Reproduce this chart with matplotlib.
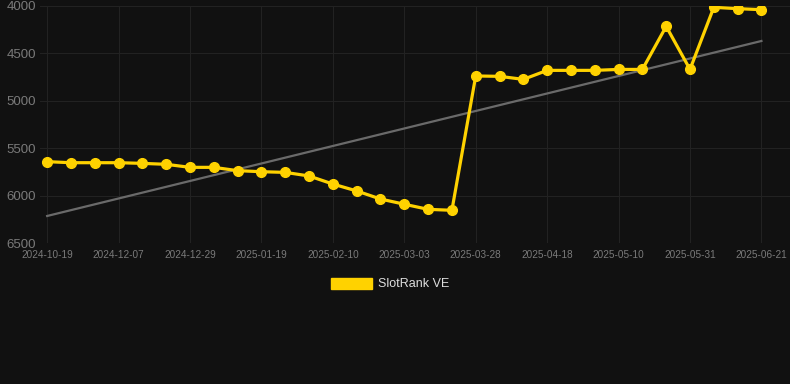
import matplotlib
matplotlib.use('Agg')
import matplotlib.pyplot as plt
from matplotlib.patches import Patch
import numpy as np

plt.rcParams['font.family'] = ['Liberation Sans', 'DejaVu Sans']

# ranks (lower is better, axis inverted)
ranks = [5642, 5653, 5653, 5653, 5660, 5670, 5702, 5702, 5737, 5748,
         5755, 5793, 5878, 5951, 6036, 6091, 6145, 6155, 4738, 4742,
         4774, 4679, 4679, 4679, 4669, 4669, 4215, 4669, 4014, 4028,
         4039]
# trend line ends (first and last point)
trend = [6215, 4369]
tick_labels = ['2024-10-19', '2024-12-07', '2024-12-29', '2025-01-19',
               '2025-02-10', '2025-03-03', '2025-03-28', '2025-04-18',
               '2025-05-10', '2025-05-31', '2025-06-21']
series_name = 'SlotRank VE'
y_ticks = [4000, 4500, 5000, 5500, 6000, 6500]

bg = '#111111'
gold = '#FFD200'

fig = plt.figure(figsize=(7.9, 3.84), dpi=100, facecolor=bg)
W, H = 790, 384
ax = fig.add_axes([40 / W, 1 - 243 / H, (W - 40) / W, (243 - 6) / H])
ax.set_facecolor(bg)

x = np.arange(len(ranks))
ax.plot([x[0], x[-1]], trend, color='#6a6a6a', lw=1.6, zorder=2)

ax.plot(x, ranks, color=gold, lw=2.3, marker='o', markersize=7.0,
        markerfacecolor=gold, markeredgecolor=gold, zorder=3)

ax.set_ylim(6500, 4000)
ax.set_xlim(-0.3, 31.2)
ax.set_yticks(y_ticks)
ax.set_xticks(x[::3])
ax.set_xticklabels(tick_labels)
ax.tick_params(axis='y', colors='#7a7a7a', labelsize=9.5, length=0, pad=3)
ax.tick_params(axis='x', colors='#7a7a7a', labelsize=7.2, length=0, pad=5)
ax.grid(True, color='#222222', lw=0.8)
ax.set_axisbelow(True)
for s in ax.spines.values():
    s.set_visible(False)

handle = Patch(facecolor=gold, edgecolor=gold)
fig.legend([handle], [series_name], loc='center',
           bbox_to_anchor=(390 / W, 1 - 284 / H), frameon=False,
           fontsize=9, labelcolor='#dddddd', handlelength=3.3,
           handleheight=1.0, handletextpad=0.5)

fig.savefig('out.png', dpi=100, facecolor=bg)
